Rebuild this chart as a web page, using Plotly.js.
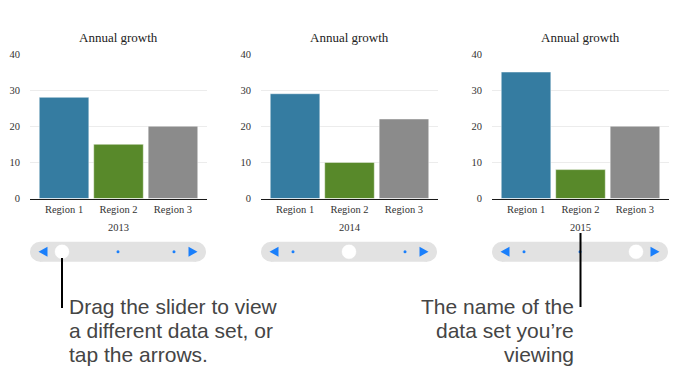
<!DOCTYPE html>
<html>
<head>
<meta charset="utf-8">
<script src="https://cdn.plot.ly/plotly-3.0.1.min.js"></script>
<style>
html,body{margin:0;padding:0;background:#fff;}
#chart{width:682px;height:376px;}
</style>
</head>
<body>
<div id="chart"></div>
<script>
// ---- data ----
const regions = ['Region 1', 'Region 2', 'Region 3'];
const years = ['2013', '2014', '2015'];
const growth2013 = [28, 15, 20];
const growth2014 = [29, 10, 22];
const growth2015 = [35, 8, 20];
const chartTitle = 'Annual growth';
const yTicks = [0, 10, 20, 30, 40];
const barColors = ['#357ca1', '#58892a', '#8b8b8b'];
const leftNote = ['Drag the slider to view', 'a different data set, or', 'tap the arrows.'];
const rightNote = ['The name of the', 'data set you\u2019re', 'viewing'];

const seriesList = [growth2013, growth2014, growth2015];

// ---- layout helpers (pixels -> paper) ----
const W = 682, H = 376;
const px = x => x / W;
const py = y => 1 - y / H;
const plotLefts = [30, 261, 492];
const plotW = 177;
const yTop = 54, yBottom = 198.5;

const serif = 'Liberation Serif, Times New Roman, serif';
const sans = 'Liberation Sans, Arial, Helvetica, sans-serif';
const blue = '#1a7ffb';

const traces = [];
const layout = {
  width: W, height: H,
  margin: {l: 0, r: 0, t: 0, b: 0},
  paper_bgcolor: '#fff', plot_bgcolor: '#fff',
  showlegend: false,
  bargap: 0.09,
  font: {family: serif, size: 11, color: '#333'},
  shapes: [], annotations: []
};

seriesList.forEach((vals, i) => {
  const sfx = i === 0 ? '' : String(i + 1);
  traces.push({
    type: 'bar', x: regions, y: vals,
    xaxis: 'x' + sfx, yaxis: 'y' + sfx,
    marker: {color: barColors, line: {color: 'rgba(255,255,255,0.45)', width: 1}},
    hoverinfo: 'x+y'
  });
  const L = plotLefts[i];
  layout['xaxis' + sfx] = {
    domain: [px(L), px(L + plotW)], anchor: 'y' + sfx,
    range: [-0.625, 2.625],
    showline: true, linecolor: '#1a1a1a', linewidth: 1.5,
    showgrid: false, ticks: '', zeroline: false, fixedrange: true,
    tickfont: {family: serif, size: 10.5, color: '#333'},
    title: {text: years[i], font: {family: serif, size: 10.5, color: '#333'}, standoff: 10}
  };
  layout['yaxis' + sfx] = {
    domain: [py(yBottom), py(yTop)], anchor: 'x' + sfx,
    range: [0, 40], tickvals: yTicks, ticktext: yTicks.map(String),
    showgrid: true, gridcolor: '#ececec', gridwidth: 1,
    zeroline: false, showline: false, ticks: '', fixedrange: true,
    ticklabelstandoff: 9,
    tickfont: {family: serif, size: 10.5, color: '#333'}
  };
  // title
  layout.annotations.push({
    xref: 'paper', yref: 'paper', x: px(L + plotW / 2), y: py(37),
    xanchor: 'center', yanchor: 'middle', showarrow: false,
    text: chartTitle, font: {family: serif, size: 13, color: '#222'}
  });
  // slider track
  const sy = 251.7, r = 10;
  const trackFill = '#e2e2e2';
  layout.shapes.push({type: 'rect', xref: 'paper', yref: 'paper',
    x0: px(L + r), x1: px(L + 176 - r), y0: py(sy + r), y1: py(sy - r),
    fillcolor: trackFill, line: {width: 0}, layer: 'above'});
  [L + r, L + 176 - r].forEach(cx => layout.shapes.push({type: 'circle', xref: 'paper', yref: 'paper',
    xsizemode: 'pixel', ysizemode: 'pixel', xanchor: px(cx), yanchor: py(sy),
    x0: -r, x1: r, y0: -r, y1: r, fillcolor: trackFill, line: {width: 0}, layer: 'above'}));
  // arrows
  layout.shapes.push({type: 'path', xref: 'paper', yref: 'paper',
    xsizemode: 'pixel', ysizemode: 'pixel', xanchor: px(L + 13), yanchor: py(sy),
    path: 'M -4.5 0 L 4.5 5 L 4.5 -5 Z', fillcolor: blue, line: {width: 0}, layer: 'above'});
  layout.shapes.push({type: 'path', xref: 'paper', yref: 'paper',
    xsizemode: 'pixel', ysizemode: 'pixel', xanchor: px(L + 163), yanchor: py(sy),
    path: 'M 4.5 0 L -4.5 5 L -4.5 -5 Z', fillcolor: blue, line: {width: 0}, layer: 'above'});
  // dots + knob
  years.forEach((yr, k) => {
    const cx = L + 32 + 56 * k;
    if (k === i) {
      layout.shapes.push({type: 'circle', xref: 'paper', yref: 'paper',
        xsizemode: 'pixel', ysizemode: 'pixel', xanchor: px(cx), yanchor: py(sy),
        x0: -7.5, x1: 7.5, y0: -7.5, y1: 7.5, fillcolor: '#ffffff', line: {color: '#dcdcdc', width: 0.5}, layer: 'above'});
    } else {
      layout.shapes.push({type: 'circle', xref: 'paper', yref: 'paper',
        xsizemode: 'pixel', ysizemode: 'pixel', xanchor: px(cx), yanchor: py(sy),
        x0: -1.5, x1: 1.5, y0: -1.5, y1: 1.5, fillcolor: blue, line: {width: 0}, layer: 'above'});
    }
  });
});

// callout lines
layout.shapes.push({type: 'line', xref: 'paper', yref: 'paper',
  x0: px(62), x1: px(62), y0: py(258), y1: py(308), line: {color: '#000', width: 2}, layer: 'above'});
layout.shapes.push({type: 'line', xref: 'paper', yref: 'paper',
  x0: px(580.5), x1: px(580.5), y0: py(233), y1: py(307), line: {color: '#000', width: 2}, layer: 'above'});

// notes
const baselines = [314, 338, 362];
leftNote.forEach((t, k) => layout.annotations.push({
  xref: 'paper', yref: 'paper', x: px(67), y: py(baselines[k] - 7.5),
  xanchor: 'left', yanchor: 'middle', showarrow: false, text: t,
  font: {family: sans, size: 21, color: '#454545'}
}));
rightNote.forEach((t, k) => layout.annotations.push({
  xref: 'paper', yref: 'paper', x: px(576), y: py(baselines[k] - 7.5),
  xanchor: 'right', yanchor: 'middle', showarrow: false, text: t,
  font: {family: sans, size: 21, color: '#454545'}
}));

Plotly.newPlot('chart', traces, layout, {displayModeBar: false, staticPlot: true});
</script>
</body>
</html>
